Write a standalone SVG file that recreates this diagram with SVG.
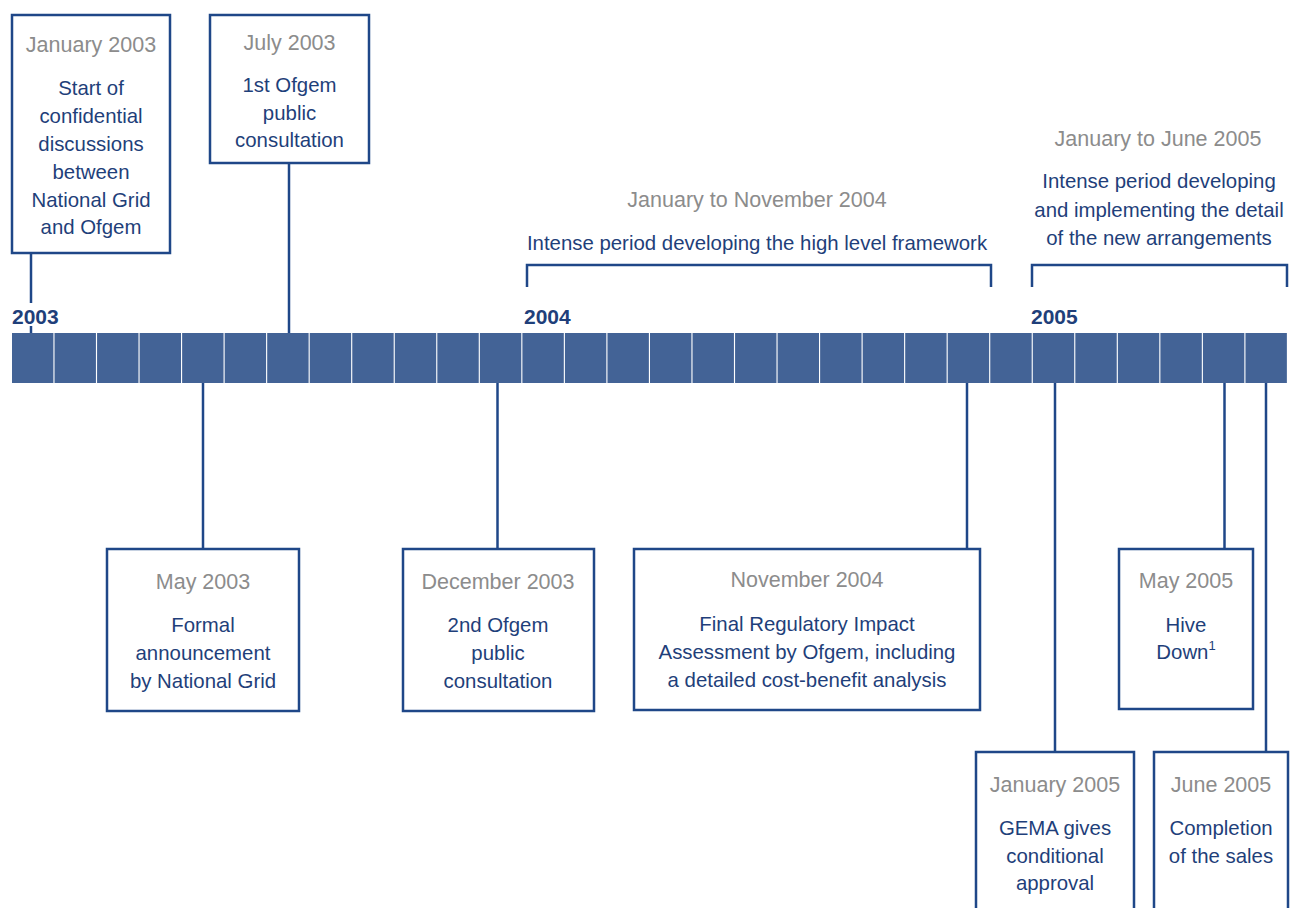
<svg xmlns="http://www.w3.org/2000/svg" width="1290" height="908" viewBox="0 0 1290 908">
<style>
.box{fill:#fff;stroke:#1f4788;stroke-width:2.5}
.ln{stroke:#1f4788;stroke-width:2.5;fill:none}
.seg{fill:#436396}
.d{font-family:"Liberation Sans",Arial,sans-serif;font-size:21.5px;fill:#8c8c8c;text-anchor:middle}
.t{font-family:"Liberation Sans",Arial,sans-serif;font-size:20.4px;fill:#1f3f7a;text-anchor:middle}
.y{font-family:"Liberation Sans",Arial,sans-serif;font-size:21px;font-weight:bold;fill:#1f3f7a}
</style>
<rect width="1290" height="908" fill="#fff"/>
<g id="bar">
<rect class="seg" x="12" y="333" width="41.4" height="50"/>
<rect class="seg" x="54.53" y="333" width="41.4" height="50"/>
<rect class="seg" x="97.07" y="333" width="41.4" height="50"/>
<rect class="seg" x="139.6" y="333" width="41.4" height="50"/>
<rect class="seg" x="182.13" y="333" width="41.4" height="50"/>
<rect class="seg" x="224.67" y="333" width="41.4" height="50"/>
<rect class="seg" x="267.2" y="333" width="41.4" height="50"/>
<rect class="seg" x="309.73" y="333" width="41.4" height="50"/>
<rect class="seg" x="352.27" y="333" width="41.4" height="50"/>
<rect class="seg" x="394.8" y="333" width="41.4" height="50"/>
<rect class="seg" x="437.33" y="333" width="41.4" height="50"/>
<rect class="seg" x="479.87" y="333" width="41.4" height="50"/>
<rect class="seg" x="522.4" y="333" width="41.4" height="50"/>
<rect class="seg" x="564.93" y="333" width="41.4" height="50"/>
<rect class="seg" x="607.47" y="333" width="41.4" height="50"/>
<rect class="seg" x="650" y="333" width="41.4" height="50"/>
<rect class="seg" x="692.53" y="333" width="41.4" height="50"/>
<rect class="seg" x="735.07" y="333" width="41.4" height="50"/>
<rect class="seg" x="777.6" y="333" width="41.4" height="50"/>
<rect class="seg" x="820.13" y="333" width="41.4" height="50"/>
<rect class="seg" x="862.67" y="333" width="41.4" height="50"/>
<rect class="seg" x="905.2" y="333" width="41.4" height="50"/>
<rect class="seg" x="947.73" y="333" width="41.4" height="50"/>
<rect class="seg" x="990.27" y="333" width="41.4" height="50"/>
<rect class="seg" x="1032.8" y="333" width="41.4" height="50"/>
<rect class="seg" x="1075.33" y="333" width="41.4" height="50"/>
<rect class="seg" x="1117.87" y="333" width="41.4" height="50"/>
<rect class="seg" x="1160.4" y="333" width="41.4" height="50"/>
<rect class="seg" x="1202.93" y="333" width="41.4" height="50"/>
<rect class="seg" x="1245.47" y="333" width="41.4" height="50"/>
</g>
<g id="years">
<text class="y" x="12" y="324">2003</text>
<text class="y" x="524" y="324">2004</text>
<text class="y" x="1031" y="324">2005</text>
</g>
<g id="connectors">
<line class="ln" x1="31" y1="253" x2="31" y2="303"/>
<line class="ln" x1="31" y1="326" x2="31" y2="333"/>
<line class="ln" x1="289" y1="163" x2="289" y2="333"/>
<line class="ln" x1="203" y1="383" x2="203" y2="549"/>
<line class="ln" x1="497.5" y1="383" x2="497.5" y2="549"/>
<line class="ln" x1="967" y1="383" x2="967" y2="549"/>
<line class="ln" x1="1055" y1="383" x2="1055" y2="752"/>
<line class="ln" x1="1224.5" y1="383" x2="1224.5" y2="549"/>
<line class="ln" x1="1266" y1="383" x2="1266" y2="752"/>
</g>
<g id="period2004">
<text class="d" x="757" y="207">January to November 2004</text>
<text class="t" x="757" y="250">Intense period developing the high level framework</text>
<polyline class="ln" points="527,287 527,265 991,265 991,287"/>
</g>
<g id="period2005">
<text class="d" x="1158" y="146">January to June 2005</text>
<text class="t" x="1159" y="188">Intense period developing</text>
<text class="t" x="1159" y="217">and implementing the detail</text>
<text class="t" x="1159" y="245">of the new arrangements</text>
<polyline class="ln" points="1032,287 1032,265 1287,265 1287,287"/>
</g>
<g id="jan2003">
<rect class="box" x="12" y="15" width="158" height="238"/>
<text class="d" x="91" y="52">January 2003</text>
<text class="t" x="91" y="95">Start of</text>
<text class="t" x="91" y="123">confidential</text>
<text class="t" x="91" y="151">discussions</text>
<text class="t" x="91" y="179">between</text>
<text class="t" x="91" y="207">National Grid</text>
<text class="t" x="91" y="234">and Ofgem</text>
</g>
<g id="jul2003">
<rect class="box" x="210" y="15" width="159" height="148"/>
<text class="d" x="289.5" y="50">July 2003</text>
<text class="t" x="289.5" y="92">1st Ofgem</text>
<text class="t" x="289.5" y="120">public</text>
<text class="t" x="289.5" y="147">consultation</text>
</g>
<g id="may2003">
<rect class="box" x="107" y="549" width="192" height="162"/>
<text class="d" x="203" y="589">May 2003</text>
<text class="t" x="203" y="632">Formal</text>
<text class="t" x="203" y="660">announcement</text>
<text class="t" x="203" y="688">by National Grid</text>
</g>
<g id="dec2003">
<rect class="box" x="403" y="549" width="191" height="162"/>
<text class="d" x="498" y="589">December 2003</text>
<text class="t" x="498" y="632">2nd Ofgem</text>
<text class="t" x="498" y="660">public</text>
<text class="t" x="498" y="688">consultation</text>
</g>
<g id="nov2004">
<rect class="box" x="634" y="549" width="346" height="161"/>
<text class="d" x="807" y="587">November 2004</text>
<text class="t" x="807" y="631">Final Regulatory Impact</text>
<text class="t" x="807" y="659">Assessment by Ofgem, including</text>
<text class="t" x="807" y="687">a detailed cost-benefit analysis</text>
</g>
<g id="may2005">
<rect class="box" x="1119" y="549" width="134" height="160"/>
<text class="d" x="1186" y="588">May 2005</text>
<text class="t" x="1186" y="632">Hive</text>
<text class="t" x="1186" y="659">Down<tspan font-size="13" dy="-9">1</tspan></text>
</g>
<g id="jan2005">
<path class="box" d="M976,912 V752 H1134 V912"/>
<text class="d" x="1055" y="792">January 2005</text>
<text class="t" x="1055" y="835">GEMA gives</text>
<text class="t" x="1055" y="863">conditional</text>
<text class="t" x="1055" y="890">approval</text>
</g>
<g id="jun2005">
<path class="box" d="M1154,912 V752 H1288 V912"/>
<text class="d" x="1221" y="792">June 2005</text>
<text class="t" x="1221" y="835">Completion</text>
<text class="t" x="1221" y="863">of the sales</text>
</g>
</svg>
